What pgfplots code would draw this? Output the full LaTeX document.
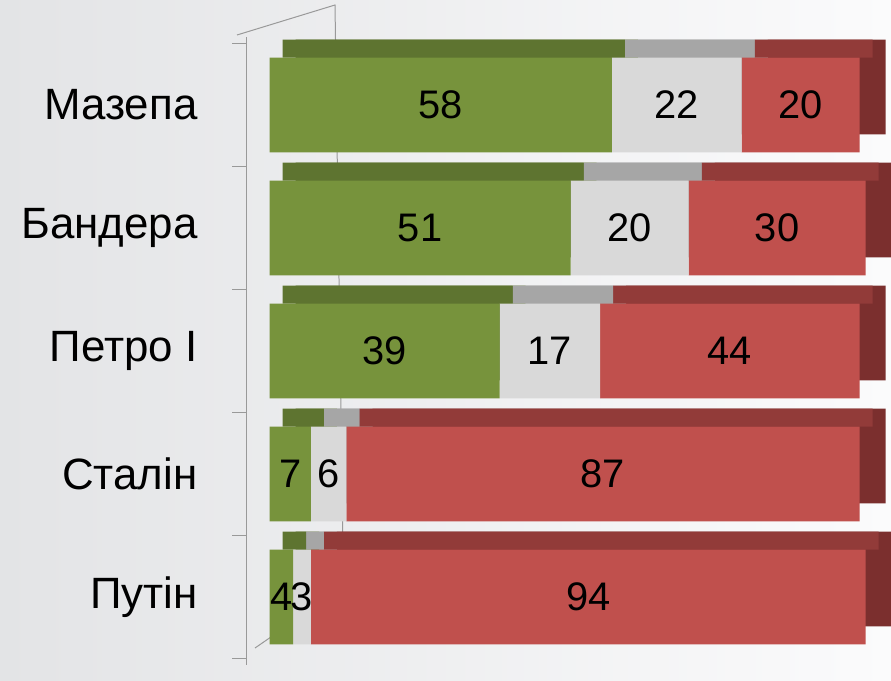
\documentclass[border=0pt]{standalone}
\usepackage{fontspec}
\setmainfont{Liberation Sans}
\usepackage{pgfplots}
\usepackage{pgfplotstable}
\pgfplotsset{compat=1.18}
\definecolor{gF}{HTML}{77933C}
\definecolor{gT}{HTML}{5E7430}
\definecolor{nF}{HTML}{D9D9D9}
\definecolor{nT}{HTML}{A6A6A6}
\definecolor{rF}{HTML}{C0504D}
\definecolor{rT}{HTML}{923B39}
\definecolor{rS}{HTML}{7B2F2E}
\definecolor{bgL}{HTML}{E3E4E6}
\definecolor{bgR}{HTML}{FBFBFC}

\pgfplotstableread{
row g n r
0 58 22 20
1 51 20 30
2 39 17 44
3 7 6 87
4 4 3 94
}\data

\pgfplotsset{base/.style={
  scale only axis, width=619.5bp, height=627.3bp,
  xmin=-4, xmax=101, ymin=-0.55, ymax=4.55, y dir=reverse,
  at={(246bp,16.35bp)}, anchor=south west, clip=false}}

\begin{document}
\begin{tikzpicture}
\useasboundingbox (0,0) rectangle (891bp,681bp);
\shade[left color=bgL, right color=bgR] (0,0) rectangle (891bp,681bp);
\draw[gray!80, line width=1pt] (237bp,646bp) -- (335bp,676bp) -- (344bp,60bp);
\draw[gray!80, line width=1pt] (255bp,33bp) -- (300bp,64bp);

% depth layer: sides
\begin{axis}[base, hide axis, xbar stacked, bar width=0.772]
\addplot[fill=gT, draw=none, xshift=26bp, yshift=18bp] table[x=g,y=row]{\data};
\addplot[fill=nT, draw=none, xshift=26bp, yshift=18bp] table[x=n,y=row]{\data};
\addplot[fill=rS, draw=none, xshift=26bp, yshift=18bp] table[x=r,y=row]{\data};
\end{axis}
% depth layer: tops
\begin{axis}[base, hide axis, xbar stacked, bar width=18bp]
\addplot[fill=gT, draw=none, xshift=13bp, yshift=56.5bp] table[x=g,y=row]{\data};
\addplot[fill=nT, draw=none, xshift=13bp, yshift=56.5bp] table[x=n,y=row]{\data};
\addplot[fill=rT, draw=none, xshift=13bp, yshift=56.5bp] table[x=r,y=row]{\data};
\end{axis}
% front faces
\begin{axis}[base, xbar stacked, bar width=0.772,
  axis y line*=left, axis x line=none,
  axis line style={gray!80, line width=1pt},
  ytick={0,1,2,3,4},
  yticklabels={Мазепа,Бандера,Петро І,Сталін,Путін},
  major tick length=0pt,
  minor ytick={-0.5,0.5,1.5,2.5,3.5,4.5},
  minor tick length=14bp, tick align=outside,
  minor tick style={gray!80, line width=1pt},
  yticklabel style={font=\fontsize{44}{52}\selectfont, anchor=east, xshift=-45bp, text=black}]
\addplot[fill=gF, draw=none] table[x=g,y=row]{\data};
\addplot[fill=nF, draw=none] table[x=n,y=row]{\data};
\addplot[fill=rF, draw=none] table[x=r,y=row]{\data};
\end{axis}
% value labels
\begin{axis}[base, hide axis]
\addplot[only marks, mark=none,
  nodes near coords={\pgfplotspointmeta}, point meta=explicit symbolic,
  nodes near coords style={anchor=center, font=\fontsize{40}{48}\selectfont, text=black}]
coordinates {
(29,0) [58] (69,0) [22] (90,0) [20]
(25.5,1) [51] (61,1) [20] (86,1) [30]
(19.5,2) [39] (47.5,2) [17] (78,2) [44]
(3.5,3) [7] (10,3) [6] (56.5,3) [87]
(2,4) [4] (5.5,4) [3] (54,4) [94]
};
\end{axis}
\end{tikzpicture}
\end{document}
